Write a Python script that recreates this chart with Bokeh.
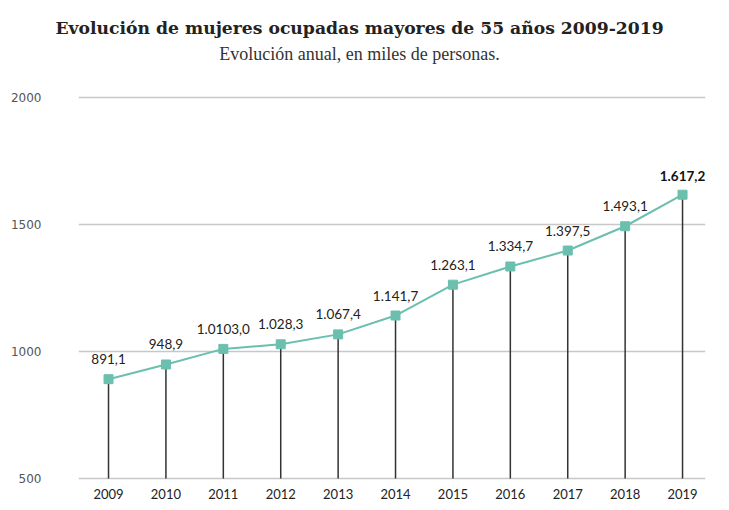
from bokeh.plotting import figure
from bokeh.models import Range1d, FixedTicker, Title, Label, ColumnDataSource
from bokeh.embed import file_html
from bokeh.resources import INLINE
from bokeh.core.properties import value

years = [2009, 2010, 2011, 2012, 2013, 2014, 2015, 2016, 2017, 2018, 2019]
values = [891.1, 948.9, 1010.3, 1028.3, 1067.4, 1141.7, 1263.1, 1334.7, 1397.5, 1493.1, 1617.2]
value_labels = ["891,1", "948,9", "1.0103,0", "1.028,3", "1.067,4", "1.141,7",
                "1.263,1", "1.334,7", "1.397,5", "1.493,1", "1.617,2"]
y_ticks = [500, 1000, 1500, 2000]
title_text = "Evolución de mujeres ocupadas mayores de 55 años 2009-2019"
subtitle_text = "Evolución anual, en miles de personas."

BASE = 500
SANS = "Lato"

p = figure(width=713, height=502, output_backend="svg", toolbar_location=None,
           x_range=Range1d(2008.477, 2019.40), y_range=Range1d(484.25, 2224.4),
           min_border_left=78, min_border_right=8, min_border_top=40, min_border_bottom=20)
p.title = None
p.outline_line_color = None
p.background_fill_color = "white"
p.border_fill_color = "white"

# axes
p.xaxis.ticker = FixedTicker(ticks=years)
p.xaxis.major_label_overrides = {y: str(y) for y in years}
p.xaxis.axis_line_color = None
p.xaxis.major_tick_line_color = None
p.xaxis.minor_tick_line_color = None
p.xaxis.major_label_text_font = SANS
p.xaxis.major_label_text_font_size = "13px"
p.xaxis.major_label_text_color = "#222222"
p.xaxis.major_label_standoff = 0

p.yaxis.ticker = FixedTicker(ticks=y_ticks)
p.yaxis.axis_line_color = None
p.yaxis.major_tick_line_color = None
p.yaxis.minor_tick_line_color = None
p.yaxis.major_label_text_font = "DejaVu Sans"
p.yaxis.major_label_text_font_size = "12px"
p.yaxis.major_label_text_color = "#555555"
p.yaxis.major_label_standoff = 31

p.xgrid.grid_line_color = None
p.ygrid.grid_line_color = "#c8c8c8"
p.ygrid.grid_line_width = 1.5

src = ColumnDataSource(dict(x=years, y=values, base=[BASE] * len(years)))

p.segment(x0="x", y0="base", x1="x", y1="y", source=src, line_color="#333333", line_width=1.5)
p.line("x", "y", source=src, line_color="#6bbfae", line_width=2)
p.scatter("x", "y", source=src, marker="square", size=9, fill_color="#6bbfae", line_color="#6bbfae")

normal = ColumnDataSource(dict(x=years[:-1], y=values[:-1], lab=value_labels[:-1]))
bold = ColumnDataSource(dict(x=years[-1:], y=values[-1:], lab=value_labels[-1:]))
p.text("x", "y", text="lab", source=normal, text_font=value(SANS), text_font_size="13.5px",
       text_color="#222222", text_align="center", text_baseline="middle", y_offset=-20)
p.text("x", "y", text="lab", source=bold, text_font=value(SANS), text_font_size="13.5px",
       text_font_style="bold", text_color="#111111", text_align="center",
       text_baseline="middle", y_offset=-19)

p.add_layout(Label(x=281, y=429, x_units="screen", y_units="screen", text=subtitle_text,
                   text_font="Liberation Serif", text_font_size="18px",
                   text_color="#333333", text_align="center", text_baseline="middle"))
p.add_layout(Title(text=title_text, align="left", offset=-23, standoff=6,
                   text_font="DejaVu Serif", text_font_style="bold",
                   text_font_size="17.2px", text_color="#222222"), "above")

open("out.html", "w").write(file_html(p, INLINE))
